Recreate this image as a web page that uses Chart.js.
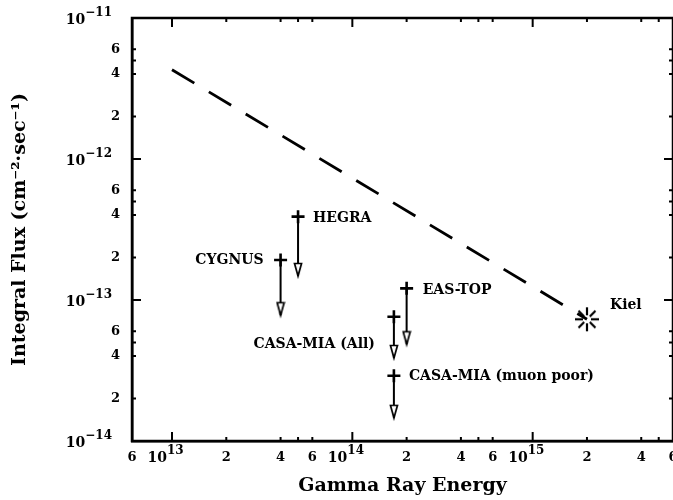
<!DOCTYPE html>
<html><head><meta charset="utf-8">
<script src="https://cdn.jsdelivr.net/npm/chart.js@4/dist/chart.umd.min.js"></script>
<style>html,body{margin:0;padding:0;overflow:hidden;background:#fff;width:673px;height:500px}canvas{display:block}</style>
</head><body>
<canvas id="c" width="673" height="500"></canvas>
<script>
// ---- data ----
const xTickValues = [6e12, 1e13, 2e13, 4e13, 5e13, 6e13, 1e14, 2e14, 4e14, 5e14, 6e14, 1e15, 2e15, 4e15, 5e15, 6e15];
const xTickLabels = ['6', '10^13', '2', '4', '', '6', '10^14', '2', '4', '', '6', '10^15', '2', '4', '', '6'];
const yTickValues = [1e-14, 2e-14, 4e-14, 5e-14, 6e-14, 1e-13, 2e-13, 4e-13, 5e-13, 6e-13, 1e-12, 2e-12, 4e-12, 5e-12, 6e-12, 1e-11];
const yTickLabels = ['10^−14', '2', '4', '', '6', '10^−13', '2', '4', '', '6', '10^−12', '2', '4', '', '6', '10^−11'];

const limitNames  = ['CYGNUS', 'HEGRA', 'CASA-MIA (All)', 'CASA-MIA (muon poor)', 'EAS-TOP'];
const limitEnergy = [4.0e13, 5.0e13, 1.7e14, 1.7e14, 2.0e14];
const limitFlux   = [1.92e-13, 3.9e-13, 7.6e-14, 2.9e-14, 1.21e-13];
const arrowTipFlux = [7.8e-14, 1.48e-13, 3.88e-14, 1.46e-14, 4.85e-14];

const kielName = 'Kiel';
const kielEnergy = [2.0e15];
const kielFlux = [7.3e-14];

const lineEnergy = [1e13, 2.0e15];
const lineFlux = [4.3e-12, 7.3e-14];

// ---- styling (not data) ----
const FONT = "'DejaVu Serif', 'Liberation Serif', serif";
const labelOffsets = [
  {dx: -17, dy: 0, align: 'right'},
  {dx: 15, dy: 2, align: 'left'},
  {dx: -19, dy: 28, align: 'right'},
  {dx: 15, dy: 1, align: 'left'},
  {dx: 16, dy: 2, align: 'left'}
];
const kielOffset = {dx: 23, dy: -14, align: 'left'};

function makeArrow() {
  const c = document.createElement('canvas'); c.width = 10; c.height = 28;
  const g = c.getContext('2d');
  g.beginPath(); g.moveTo(1.5, 1.5); g.lineTo(8.5, 1.5); g.lineTo(5, 14); g.closePath();
  g.fillStyle = '#fff'; g.fill(); g.lineWidth = 1.7; g.strokeStyle = '#000'; g.lineJoin = 'miter'; g.stroke();
  return c;
}
function makeStar() {
  const c = document.createElement('canvas'); c.width = 30; c.height = 30;
  const g = c.getContext('2d'); g.strokeStyle = '#000'; g.lineWidth = 2.2; g.lineCap = 'butt';
  for (let k = 0; k < 8; k++) {
    const a = k * Math.PI / 4;
    g.beginPath(); g.moveTo(15 + 4 * Math.cos(a), 15 + 4 * Math.sin(a));
    g.lineTo(15 + 12 * Math.cos(a), 15 + 12 * Math.sin(a)); g.stroke();
  }
  return c;
}
const arrowImg = makeArrow();
const starImg = makeStar();

const datasets = [];
datasets.push({
  type: 'line', data: lineEnergy.map((e, i) => ({x: e, y: lineFlux[i]})),
  borderColor: '#000', borderWidth: 2.8, borderDash: [26, 17], pointRadius: 0, borderCapStyle: 'butt', fill: false
});
datasets.push({
  type: 'scatter', data: kielEnergy.map((e, i) => ({x: e, y: kielFlux[i]})),
  pointStyle: starImg, pointRadius: 12
});
limitNames.forEach((n, i) => {
  datasets.push({
    type: 'line', label: n,
    data: [{x: limitEnergy[i], y: limitFlux[i]}, {x: limitEnergy[i], y: arrowTipFlux[i]}],
    borderColor: '#000', borderWidth: 2, fill: false,
    pointStyle: ['cross', arrowImg], pointRadius: [6.5, 7], pointBorderWidth: [2.6, 0],
    pointBorderColor: '#000', pointBackgroundColor: '#fff'
  });
});

const plainLabel = arr => (v, i) => (arr[i].indexOf('^') >= 0 ? '' : arr[i]);

const framePlugin = {
  id: 'frame',
  afterDatasetsDraw(chart) {
    const ctx = chart.ctx, a = chart.chartArea, xs = chart.scales.x, ys = chart.scales.y;
    ctx.save();
    ctx.strokeStyle = '#000'; ctx.lineWidth = 2.5;
    ctx.strokeRect(a.left, a.top, a.right - a.left, a.bottom - a.top);
    ctx.lineWidth = 2;
    const isMajor = v => Math.abs(Math.log10(v) - Math.round(Math.log10(v))) < 1e-6;
    xTickValues.forEach(v => {
      const px = xs.getPixelForValue(v); const L = isMajor(v) ? 9 : 4;
      ctx.beginPath(); ctx.moveTo(px, a.bottom); ctx.lineTo(px, a.bottom - L);
      ctx.moveTo(px, a.top); ctx.lineTo(px, a.top + L); ctx.stroke();
    });
    yTickValues.forEach(v => {
      const py = ys.getPixelForValue(v); const L = isMajor(v) ? 9 : 4;
      ctx.beginPath(); ctx.moveTo(a.left, py); ctx.lineTo(a.left + L, py);
      ctx.moveTo(a.right, py); ctx.lineTo(a.right - L, py); ctx.stroke();
    });
    ctx.fillStyle = '#000'; ctx.textBaseline = 'middle';
    // power-of-ten tick labels with real superscripts
    const baseFont = 'bold 14px ' + FONT, expFont = 'bold 12px ' + FONT;
    xTickLabels.forEach((lab, i) => {
      if (lab.indexOf('^') < 0) return;
      const [b, e] = lab.split('^');
      const px = xs.getPixelForValue(xTickValues[i]);
      ctx.font = baseFont; ctx.textAlign = 'right'; ctx.fillText(b, px - 5, 458);
      ctx.font = expFont; ctx.textAlign = 'left'; ctx.fillText(e, px - 5, 451);
    });
    yTickLabels.forEach((lab, i) => {
      if (lab.indexOf('^') < 0) return;
      const [b, e] = lab.split('^');
      const py = ys.getPixelForValue(yTickValues[i]);
      ctx.font = expFont; const ew = ctx.measureText(e).width;
      ctx.textAlign = 'right'; ctx.fillText(e, a.left - 20, py - 5);
      ctx.font = baseFont; ctx.fillText(b, a.left - 20 - ew, py + 2);
    });
    // annotations
    ctx.font = 'bold 14px ' + FONT;
    limitNames.forEach((n, i) => {
      const o = labelOffsets[i];
      ctx.textAlign = o.align;
      ctx.fillText(n, xs.getPixelForValue(limitEnergy[i]) + o.dx, ys.getPixelForValue(limitFlux[i]) + o.dy);
    });
    ctx.textAlign = kielOffset.align;
    ctx.fillText(kielName, xs.getPixelForValue(kielEnergy[0]) + kielOffset.dx, ys.getPixelForValue(kielFlux[0]) + kielOffset.dy);
    ctx.restore();
  }
};

new Chart(document.getElementById('c'), {
  data: {datasets},
  options: {
    responsive: false, animation: false,
    layout: {autoPadding: false, padding: {top: 18, right: -1.5, bottom: 0, left: 0}},
    plugins: {legend: {display: false}, tooltip: {enabled: false}},
    scales: {
      x: {
        type: 'logarithmic', position: 'bottom', min: 6e12, max: 6e15,
        afterBuildTicks: s => { s.ticks = xTickValues.map(v => ({value: v})); },
        afterFit: s => { s.height = 59; s.paddingLeft = 0; s.paddingRight = -1.5; },
        ticks: {autoSkip: false, maxRotation: 0, minRotation: 0, padding: 9, color: '#000',
          font: {family: FONT, size: 13, weight: 'bold'}, callback: plainLabel(xTickLabels)},
        grid: {display: false, drawTicks: false},
        border: {display: true, color: '#000', width: 2.5},
        title: {display: true, text: 'Gamma Ray Energy', color: '#000',
          font: {family: FONT, size: 19, weight: 'bold'}, padding: {top: 0, bottom: 3}}
      },
      y: {
        type: 'logarithmic', position: 'left', min: 1e-14, max: 1e-11,
        afterBuildTicks: s => { s.ticks = yTickValues.map(v => ({value: v})); },
        afterFit: s => { s.width = 132; s.paddingTop = 0; s.paddingBottom = 0; },
        ticks: {autoSkip: false, padding: 12, color: '#000',
          font: {family: FONT, size: 13, weight: 'bold'}, callback: plainLabel(yTickLabels)},
        grid: {display: false, drawTicks: false},
        border: {display: true, color: '#000', width: 2.5},
        title: {display: true, text: 'Integral Flux (cm⁻²·sec⁻¹)', color: '#000',
          font: {family: FONT, size: 19, weight: 'bold'}, padding: {top: 9, bottom: 0}}
      }
    }
  },
  plugins: [framePlugin]
});
</script>
</body></html>
